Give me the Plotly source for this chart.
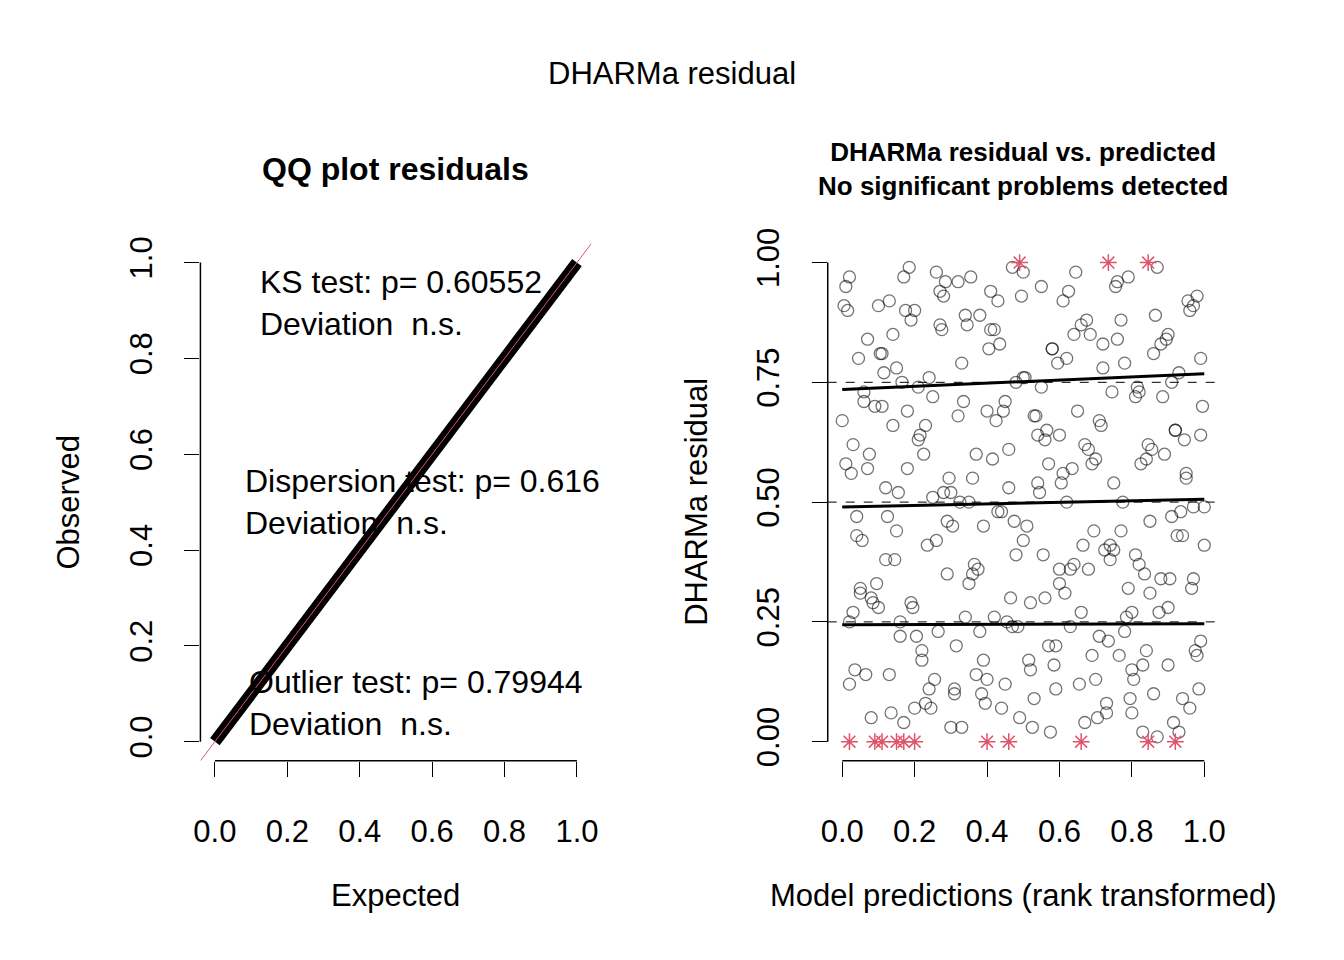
import plotly.graph_objects as go

# QQ panel: simulated residual quantiles lie on the diagonal
qq_expected = [0.0, 0.1, 0.2, 0.3, 0.4, 0.5, 0.6, 0.7, 0.8, 0.9, 1.0]
qq_observed = [0.0, 0.1, 0.2, 0.3, 0.4, 0.5, 0.6, 0.7, 0.8, 0.9, 1.0]

# residual vs predicted
pred = [0.01, 0.03, 0.05, 0.07, 0.02, 0.04, 0.06, 0.08, 0.1, 0.12, 0.14, 0.16, 0.18, 0.11, 0.13, 0.15,
        0.17, 0.19, 0.21, 0.23, 0.25, 0.27, 0.29, 0.22, 0.24, 0.26, 0.28, 0.3, 0.32, 0.34, 0.36, 0.38,
        0.31, 0.33, 0.35, 0.37, 0.39, 0.41, 0.43, 0.45, 0.47, 0.42, 0.44, 0.46, 0.48, 0.5, 0.52, 0.54,
        0.56, 0.58, 0.51, 0.53, 0.55, 0.57, 0.59, 0.61, 0.63, 0.65, 0.67, 0.62, 0.64, 0.66, 0.68, 0.7,
        0.72, 0.74, 0.76, 0.78, 0.71, 0.73, 0.75, 0.77, 0.79, 0.81, 0.83, 0.85, 0.87, 0.82, 0.84, 0.86,
        0.88, 0.9, 0.92, 0.94, 0.96, 0.98, 0.91, 0.93, 0.95, 0.97, 0.99, 1.0, 0.02, 0.09, 0.19, 0.28,
        0.37, 0.46, 0.55, 0.64, 0.73, 0.82, 0.91, 0.99, 0.04, 0.14, 0.23, 0.33, 0.43, 0.52, 0.61, 0.69,
        0.78, 0.88, 0.96, 0.06, 0.16, 0.26, 0.35, 0.45, 0.56, 0.66, 0.75, 0.84, 0.93, 0.01, 0.08, 0.18,
        0.27, 0.39, 0.49, 0.58, 0.68, 0.8, 0.89, 0.97, 0.03, 0.12, 0.21, 0.31, 0.41, 0.5, 0.6, 0.71,
        0.79, 0.87, 0.95, 0.05, 0.15, 0.24, 0.34, 0.44, 0.53, 0.63, 0.72, 0.81, 0.9, 0.98, 0.07, 0.17,
        0.25, 0.36, 0.47, 0.57, 0.67, 0.77, 0.86, 0.94, 0.0, 0.1, 0.2, 0.3, 0.4, 0.5, 0.6, 0.7,
        0.8, 0.9, 1.0, 0.11, 0.22, 0.32, 0.42, 0.54, 0.62, 0.74, 0.83, 0.92, 0.13, 0.29, 0.38, 0.48,
        0.59, 0.69, 0.76, 0.85, 0.97, 0.02, 0.2, 0.4, 0.6, 0.8, 0.99,
        0.015, 0.035, 0.055, 0.075, 0.095, 0.115, 0.135, 0.155, 0.175, 0.195, 0.215, 0.235, 0.255, 0.275,
        0.295, 0.315, 0.335, 0.355, 0.375, 0.395, 0.415, 0.435, 0.455, 0.475, 0.495, 0.515, 0.535, 0.555,
        0.575, 0.595, 0.615, 0.635, 0.655, 0.675, 0.695, 0.715, 0.735, 0.755, 0.775, 0.795, 0.815, 0.835,
        0.855, 0.875, 0.895, 0.915, 0.935, 0.955, 0.975, 0.995, 0.025, 0.065, 0.105, 0.145, 0.185, 0.225,
        0.265, 0.305, 0.345, 0.385, 0.425, 0.465, 0.505, 0.545, 0.585, 0.625, 0.665, 0.705, 0.745, 0.785,
        0.825, 0.865, 0.905, 0.945, 0.985, 0.045, 0.125, 0.205, 0.285, 0.365, 0.445, 0.525, 0.605, 0.685,
        0.765, 0.845, 0.925, 0.005, 0.085, 0.165, 0.245, 0.325, 0.405, 0.485, 0.565, 0.645, 0.725, 0.805,
        0.885, 0.965]
resid = [0.95, 0.62, 0.31, 0.84, 0.12, 0.47, 0.73, 0.05, 0.91, 0.38, 0.66, 0.22, 0.57, 0.81, 0.14, 0.44,
         0.97, 0.29, 0.63, 0.08, 0.51, 0.87, 0.35, 0.19, 0.76, 0.42, 0.93, 0.03, 0.68, 0.26, 0.55, 0.89,
         0.11, 0.79, 0.33, 0.6, 0.17, 0.94, 0.48, 0.71, 0.24, 0.86, 0.07, 0.53, 0.39, 0.98, 0.15, 0.64,
         0.3, 0.82, 0.45, 0.09, 0.74, 0.58, 0.2, 0.92, 0.36, 0.69, 0.04, 0.5, 0.85, 0.27, 0.61, 0.13,
         0.78, 0.41, 0.96, 0.23, 0.67, 0.06, 0.54, 0.88, 0.32, 0.72, 0.16, 0.46, 0.99, 0.37, 0.59, 0.1,
         0.83, 0.28, 0.65, 0.43, 0.9, 0.18, 0.75, 0.02, 0.56, 0.34, 0.8, 0.49, 0.25, 0.7, 0.88, 0.52,
         0.14, 0.61, 0.95, 0.37, 0.08, 0.73, 0.47, 0.21, 0.43, 0.85, 0.66, 0.03, 0.92, 0.29, 0.56, 0.18,
         0.79, 0.34, 0.07, 0.71, 0.25, 0.98, 0.5, 0.12, 0.63, 0.87, 0.4, 0.19, 0.77, 0.58, 0.3, 0.69,
         0.94, 0.45, 0.05, 0.82, 0.36, 0.15, 0.6, 0.91, 0.27, 0.53, 0.74, 0.1, 0.86, 0.42, 0.64, 0.22,
         0.97, 0.01, 0.55, 0.32, 0.78, 0.11, 0.89, 0.48, 0.68, 0.24, 0.83, 0.39, 0.16, 0.93, 0.57, 0.04,
         0.72, 0.35, 0.99, 0.2, 0.62, 0.44, 0.81, 0.09, 0.67, 0.28, 0.9, 0.52, 0.13, 0.76, 0.33, 0.59,
         0.06, 0.85, 0.41, 0.7, 0.17, 0.96, 0.26, 0.54, 0.8, 0.38, 0.02, 0.65, 0.92, 0.46, 0.23, 0.75,
         0.11, 0.58, 0.84, 0.31, 0.49, 0.97, 0.07, 0.69, 0.36, 0.27, 0.64, 0.9, 0.15, 0.42, 0.6,
         0.33, 0.77, 0.06, 0.52, 0.9, 0.28, 0.64, 0.41, 0.13, 0.86, 0.55, 0.2, 0.71, 0.97, 0.36, 0.08,
         0.59, 0.83, 0.25, 0.46, 0.93, 0.17, 0.68, 0.39, 0.02, 0.79, 0.31, 0.57, 0.12, 0.88, 0.44, 0.66,
         0.21, 0.95, 0.5, 0.09, 0.74, 0.35, 0.61, 0.27, 0.84, 0.04, 0.48, 0.92, 0.19, 0.7, 0.56, 0.14,
         0.81, 0.38, 0.99, 0.6, 0.23, 0.45, 0.87, 0.1, 0.67, 0.3, 0.76, 0.52, 0.16, 0.94, 0.41, 0.05,
         0.73, 0.26, 0.58, 0.89, 0.34, 0.63, 0.11, 0.8, 0.47, 0.22, 0.96, 0.37, 0.69, 0.03, 0.54, 0.85,
         0.18, 0.62, 0.43, 0.91, 0.29, 0.75, 0.07, 0.5, 0.82, 0.24, 0.65, 0.98, 0.4, 0.13, 0.72, 0.32,
         0.57, 0.87]

out_low_x = [0.02, 0.09, 0.11, 0.15, 0.17, 0.2, 0.4, 0.46, 0.66, 0.845, 0.92]
out_high_x = [0.49, 0.735, 0.845]

q_x = [0.0, 1.0]
q25 = [0.244, 0.246]
q50 = [0.49, 0.506]
q75 = [0.735, 0.768]

FONT = "Liberation Sans, Arial"
BLACK = "#000000"
RED = "#DF536B"
W, H = 1328, 944  # page adds an 8px body margin


def px(x):
    return (x - 8) / W


def py(y):
    return 1 - (y - 8) / H


fig = go.Figure()

# QQ panel
fig.add_trace(go.Scatter(x=qq_expected, y=qq_observed, mode="lines",
                         line=dict(color=BLACK, width=12), xaxis="x", yaxis="y"))
fig.add_trace(go.Scatter(x=[-0.04, 1.04], y=[-0.04, 1.04], mode="lines",
                         line=dict(color=RED, width=1), xaxis="x", yaxis="y"))

# residual vs predicted panel
fig.add_trace(go.Scatter(x=pred, y=resid, mode="markers", xaxis="x2", yaxis="y2",
                         marker=dict(symbol="circle-open", size=12, color="rgba(0,0,0,0.55)",
                                     line=dict(width=1.3))))
fig.add_trace(go.Scatter(x=out_low_x, y=[0] * len(out_low_x), mode="markers", xaxis="x2", yaxis="y2",
                         marker=dict(symbol="asterisk-open", size=14, color=RED, line=dict(width=1.5, color=RED))))
fig.add_trace(go.Scatter(x=out_high_x, y=[1] * len(out_high_x), mode="markers", xaxis="x2", yaxis="y2",
                         marker=dict(symbol="asterisk-open", size=14, color=RED, line=dict(width=1.5, color=RED))))
for q in (q25, q50, q75):
    fig.add_trace(go.Scatter(x=q_x, y=q, mode="lines", xaxis="x2", yaxis="y2",
                             line=dict(color=BLACK, width=3)))

YB, YT = py(762.6), py(233.4)
ax = dict(range=[-0.04, 1.04], showgrid=False, zeroline=False, showline=False,
          ticks="outside", ticklen=15, tickwidth=1, tickcolor=BLACK,
          tickfont=dict(family=FONT, size=31, color=BLACK))
ticks6 = [0, 0.2, 0.4, 0.6, 0.8, 1.0]
labels6 = ["0.0", "0.2", "0.4", "0.6", "0.8", "1.0"]
fig.update_layout(
    width=W, height=H, margin=dict(l=0, r=0, t=0, b=0),
    plot_bgcolor="white", paper_bgcolor="white", showlegend=False,
    xaxis=dict(ax, domain=[px(195.4), px(590.6)], anchor="y", tickvals=ticks6,
               ticktext=labels6, ticklabelstandoff=28),
    yaxis=dict(ax, domain=[YB, YT], anchor="x", tickvals=ticks6,
               ticktext=labels6, tickangle=-90, ticklabelstandoff=20),
    xaxis2=dict(ax, domain=[px(829.4), px(1224.6)], anchor="y2", tickvals=ticks6,
                ticktext=labels6, ticklabelstandoff=28),
    yaxis2=dict(ax, domain=[YB, YT], anchor="x2", tickvals=[0, 0.25, 0.5, 0.75, 1.0],
                ticktext=["0.00", "0.25", "0.50", "0.75", "1.00"], tickangle=-90, ticklabelstandoff=20),
)

shapes = []
for xr, yr in (("x", "y"), ("x2", "y2")):
    shapes.append(dict(type="line", xref=xr, yref="paper", x0=0, x1=1, y0=YB, y1=YB, line=dict(color=BLACK, width=1.5)))
    shapes.append(dict(type="line", xref=xr + " domain", yref=yr, x0=0, x1=0, y0=0, y1=1, line=dict(color=BLACK, width=1.5)))
for h in (0.25, 0.5, 0.75):
    shapes.append(dict(type="line", xref="x2 domain", yref="y2", x0=0, x1=1, y0=h, y1=h,
                       line=dict(color=BLACK, width=1, dash="dash")))
fig.update_layout(shapes=shapes)


def txt(s, x, y, size, xref="paper", yref="paper", xanchor="center", angle=0, bold=False):
    fig.add_annotation(text=f"<b>{s}</b>" if bold else s, x=x, y=y, xref=xref, yref=yref,
                       xanchor=xanchor, yanchor="middle", showarrow=False, textangle=angle,
                       align="left" if xanchor == "left" else "center",
                       font=dict(family=FONT, size=size, color=BLACK))


txt("DHARMa residual", px(672), py(60), 31)
txt("QQ plot residuals", px(393), py(157), 32, bold=True)
txt("DHARMa residual vs. predicted<br>No significant problems detected", px(1027), py(157), 26, bold=True)
txt("Expected", px(393), py(900), 31)
txt("Model predictions (rank transformed)", px(1027), py(900), 31)
txt("Observed", px(62), py(498), 31, angle=-90)
txt("DHARMa residual", px(696), py(498), 31, angle=-90)
txt("KS test: p= 0.60552<br>Deviation  n.s.", 0.12, 0.915, 32, xref="x", yref="y", xanchor="left")
txt("Dispersion test: p= 0.616<br>Deviation  n.s.", 0.078, 0.5, 32, xref="x", yref="y", xanchor="left")
txt("Outlier test: p= 0.79944<br>Deviation  n.s.", 0.09, 0.08, 32, xref="x", yref="y", xanchor="left")

fig.write_html("out.html")
